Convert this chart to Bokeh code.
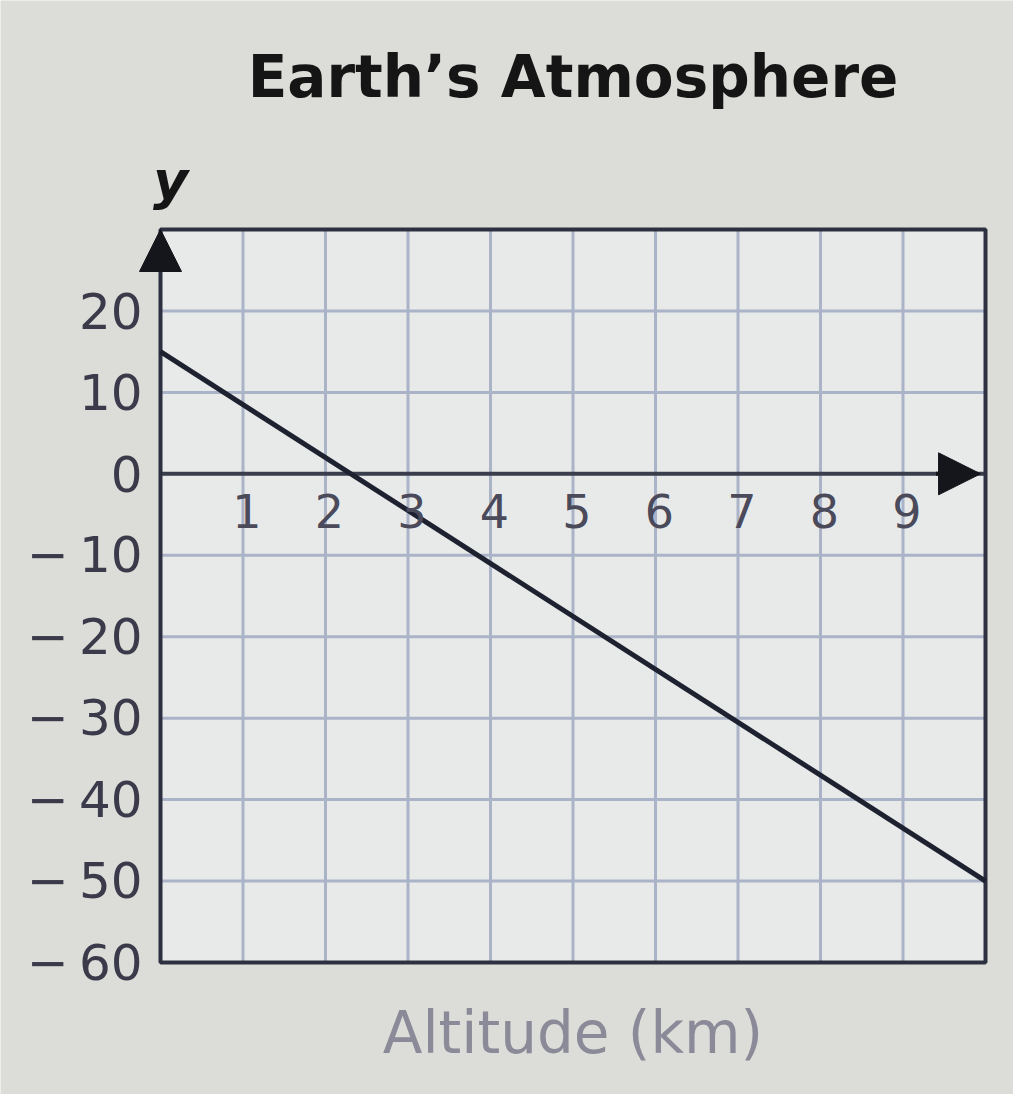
from bokeh.plotting import figure
from bokeh.models import Range1d, Arrow, NormalHead, ColumnDataSource
from bokeh.core.properties import value
from bokeh.embed import file_html
from bokeh.resources import INLINE

# ---- data ----
title_text = "Earth\u2019s Atmosphere"
x_label = "Altitude (km)"
y_label = "y"
x_ticks = [1, 2, 3, 4, 5, 6, 7, 8, 9]
x_tick_labels = ["1", "2", "3", "4", "5", "6", "7", "8", "9"]
y_ticks = [-60, -50, -40, -30, -20, -10, 0, 10, 20]
y_tick_labels = ["\u2212\u200960", "\u2212\u200950", "\u2212\u200940", "\u2212\u200930",
                 "\u2212\u200920", "\u2212\u200910", "0", "10", "20"]
grid_x = [0, 1, 2, 3, 4, 5, 6, 7, 8, 9, 10]
grid_y = [-60, -50, -40, -30, -20, -10, 0, 10, 20, 30]
altitude = [0, 10]
temperature = [15, -50]
x_min, x_max = 0, 10
y_min, y_max = -60, 30

FONT = "DejaVu Sans"

# canvas geometry: plot box sits at 160..985 px horizontally and 229..962 px vertically
W, H = 1013, 1094
L, R, T, B = 160, 28, 229, 132
sx = (W - L - R) / (x_max - x_min)
sy = (H - T - B) / (y_max - y_min)

p = figure(width=W, height=H, output_backend="svg", toolbar_location=None,
           x_range=Range1d(x_min - L / sx, x_max + R / sx),
           y_range=Range1d(y_min - B / sy, y_max + T / sy),
           min_border=0)
p.axis.visible = False
p.grid.visible = False
p.outline_line_color = None
p.border_fill_color = "#dcdcd8"
p.background_fill_color = "#dcdcd8"

# plot box
p.quad(left=[x_min], right=[x_max], bottom=[y_min], top=[y_max],
       fill_color="#e8eaea", line_color=None)

# grid lines
p.segment(x0=grid_x, y0=[y_min] * len(grid_x), x1=grid_x, y1=[y_max] * len(grid_x),
          line_color="#aab3c8", line_width=3)
p.segment(x0=[x_min] * len(grid_y), y0=grid_y, x1=[x_max] * len(grid_y), y1=grid_y,
          line_color="#aab3c8", line_width=3)

# x axis line at y = 0
p.segment(x0=[x_min], y0=[0], x1=[x_max], y1=[0], line_color="#3a3e4c", line_width=4)

# frame
p.quad(left=[x_min], right=[x_max], bottom=[y_min], top=[y_max],
       fill_color=None, line_color="#2c3040", line_width=4)

# data line
p.line(altitude, temperature, line_color="#1e2230", line_width=5)

# y tick labels
ysrc = ColumnDataSource(dict(x=[x_min] * len(y_ticks), y=y_ticks, t=y_tick_labels))
p.text(x="x", y="y", text="t", source=ysrc, text_font=value(FONT),
       text_font_size="50px", text_align="right", text_baseline="middle",
       x_offset=-18, text_color="#3a3a4a")

# x tick labels inside the plot, below the zero line
xsrc = ColumnDataSource(dict(x=x_ticks, y=[0] * len(x_ticks), t=x_tick_labels))
p.text(x="x", y="y", text="t", source=xsrc, text_font=value(FONT),
       text_font_size="46px", text_align="center", text_baseline="top",
       y_offset=20, x_offset=4, text_color="#4a4a5a")

# arrows
p.add_layout(Arrow(end=NormalHead(size=42, fill_color="#15151c", line_color="#15151c"),
                   x_start=x_min, y_start=y_max - 3, x_end=x_min, y_end=y_max,
                   line_color="#15151c", line_width=4))
p.add_layout(Arrow(end=NormalHead(size=42, fill_color="#15151c", line_color="#15151c"),
                   x_start=x_max - 0.6, y_start=0, x_end=x_max - 0.06, y_end=0,
                   line_color="#15151c", line_width=4))

# title, axis labels
p.text(x=[(x_min + x_max) / 2], y=[y_max + 18.7], text=[title_text],
       text_font=value(FONT), text_font_style="bold", text_font_size="58px",
       text_align="center", text_baseline="middle", text_color="#151515")
p.text(x=[x_min], y=[y_max + 6.0], text=[y_label], x_offset=10,
       text_font=value(FONT), text_font_style="bold italic", text_font_size="54px",
       text_align="center", text_baseline="middle", text_color="#151515")
p.text(x=[(x_min + x_max) / 2], y=[y_min - 8.6], text=[x_label],
       text_font=value(FONT), text_font_size="58px",
       text_align="center", text_baseline="middle", text_color="#8a8a98")

open("out.html", "w").write(file_html(p, INLINE))
